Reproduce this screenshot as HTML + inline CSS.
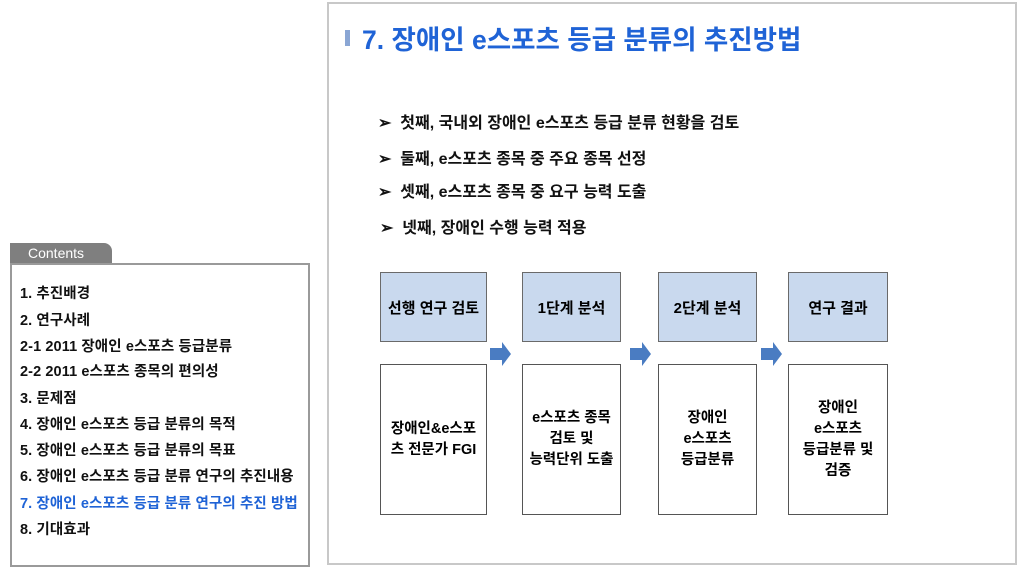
<!DOCTYPE html>
<html><head><meta charset="utf-8"><style>
body{margin:0;width:1024px;height:573px;background:#fff;position:relative;overflow:hidden;font-family:"Liberation Sans","Noto Sans CJK KR",sans-serif;}
.a{position:absolute}
.frame{left:327px;top:2px;width:690px;height:563px;border:2px solid #c8c8c8;box-sizing:border-box}
.tab{left:10px;top:243px;width:102px;height:21px;background:#7f7f7f;border-radius:0 8px 0 0;color:#fff;font-size:14px;line-height:21px;padding-left:18px;box-sizing:border-box}
.cbox{left:10px;top:263px;width:300px;height:304px;border:2px solid #9a9a9a;box-sizing:border-box}
.ci{left:20px;font-size:14.5px;font-weight:bold;color:#111;white-space:nowrap;line-height:16px;letter-spacing:0.1px}
.title{left:362px;top:18px;font-size:26.5px;font-weight:bold;color:#1f63d6;white-space:nowrap}
.bar{left:345px;top:30px;width:5px;height:16px;background:#8aa6d4}
.b{left:378px;font-size:16px;font-weight:bold;color:#111;white-space:nowrap;line-height:18px}
.top{top:272px;height:70px;background:#c9d9ee;border:1px solid #6a6a6a;box-sizing:border-box;display:flex;align-items:center;justify-content:center;font-size:15px;font-weight:bold}
.bot{top:364px;height:151px;background:#fff;border:1px solid #555;box-sizing:border-box;display:flex;align-items:center;justify-content:center;text-align:center;font-size:14.5px;font-weight:bold;line-height:21px}
</style></head><body>
<div class="a frame"></div>
<div class="a bar"></div>
<div class="a title">7. 장애인 e스포츠 등급 분류의 추진방법</div>
<div class="a b" style="top:115px">➢&nbsp; 첫째, 국내외 장애인 e스포츠 등급 분류 현황을 검토</div>
<div class="a b" style="top:151px">➢&nbsp; 둘째, e스포츠 종목 중 주요 종목 선정</div>
<div class="a b" style="top:184px">➢&nbsp; 셋째, e스포츠 종목 중 요구 능력 도출</div>
<div class="a b" style="top:220px;left:380px">➢&nbsp; 넷째, 장애인 수행 능력 적용</div>

<div class="a top" style="left:380px;width:107px">선행 연구 검토</div>
<div class="a top" style="left:522px;width:99px">1단계 분석</div>
<div class="a top" style="left:658px;width:99px">2단계 분석</div>
<div class="a top" style="left:788px;width:100px">연구 결과</div>
<div class="a bot" style="left:380px;width:107px">장애인&amp;e스포<br>츠 전문가 FGI</div>
<div class="a bot" style="left:522px;width:99px">e스포츠 종목<br>검토 및<br>능력단위 도출</div>
<div class="a bot" style="left:658px;width:99px">장애인<br>e스포츠<br>등급분류</div>
<div class="a bot" style="left:788px;width:100px">장애인<br>e스포츠<br>등급분류 및<br>검증</div>
<svg class="a" style="left:0;top:0" width="1024" height="573">
<g fill="#4a7cc2">
<polygon points="490,348 502,348 502,342 511,354 502,366 502,360 490,360"/>
<polygon points="630,348 642,348 642,342 651,354 642,366 642,360 630,360"/>
<polygon points="761,348 773,348 773,342 782,354 773,366 773,360 761,360"/>
</g></svg>

<div class="a tab">Contents</div>
<div class="a cbox"></div>
<div class="a ci" style="top:286px">1. 추진배경</div>
<div class="a ci" style="top:313px">2. 연구사례</div>
<div class="a ci" style="top:339px">2-1 2011 장애인 e스포츠 등급분류</div>
<div class="a ci" style="top:364px">2-2 2011 e스포츠 종목의 편의성</div>
<div class="a ci" style="top:391px">3. 문제점</div>
<div class="a ci" style="top:417px">4. 장애인 e스포츠 등급 분류의 목적</div>
<div class="a ci" style="top:443px">5. 장애인 e스포츠 등급 분류의 목표</div>
<div class="a ci" style="top:469px">6. 장애인 e스포츠 등급 분류 연구의 추진내용</div>
<div class="a ci" style="top:496px;color:#1f63d6">7. 장애인 e스포츠 등급 분류 연구의 추진 방법</div>
<div class="a ci" style="top:522px">8. 기대효과</div>
</body></html>
